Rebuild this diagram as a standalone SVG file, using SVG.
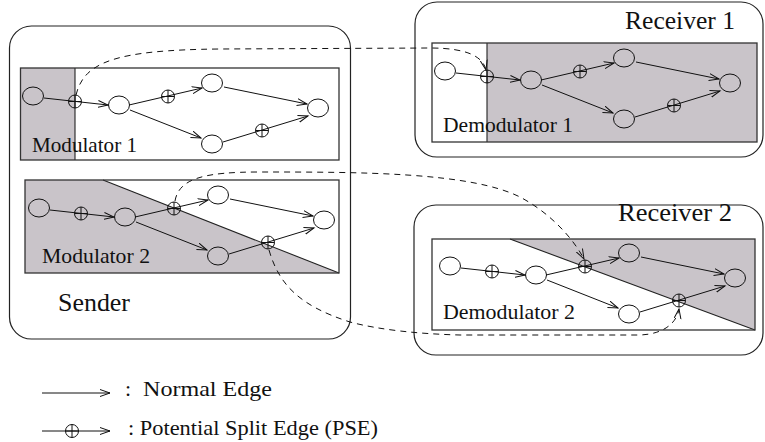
<svg xmlns="http://www.w3.org/2000/svg" width="765" height="442" viewBox="0 0 765 442">
  <style>
    .box { fill: none; stroke: #333; stroke-width: 1.3; }
    .frame { fill: none; stroke: #222; stroke-width: 1.2; }
    .shade { fill: #c9c4c9; stroke: none; }
    .split { fill: none; stroke: #222; stroke-width: 1.1; }
    .node { fill: none; stroke: #111; stroke-width: 1; }
    .edge { fill: none; stroke: #111; stroke-width: 1; marker-end: url(#arrow); }
    .link { fill: none; stroke: #111; stroke-width: 1; stroke-dasharray: 6 5; marker-end: url(#arrow); }
    .label { font-family: "Liberation Serif", "Times New Roman", serif; fill: #111; }
  </style>
  <defs>
    <marker id="arrow" markerUnits="userSpaceOnUse" markerWidth="12" markerHeight="9" refX="10" refY="4" orient="auto" viewBox="0 0 12 9">
      <path d="M0,0.5 L10,4 L0,7.5" fill="none" stroke="#111" stroke-width="1"/>
    </marker>
    <!-- potential split point: circle with a cross -->
    <g id="pse">
      <circle r="6.5" fill="none" stroke="#111" stroke-width="1"/>
      <path d="M-6.5,0 H6.5 M0,-6.5 V6.5" stroke="#111" stroke-width="1"/>
    </g>
  </defs>

  <rect width="765" height="442" fill="#fff"/>

  <!-- outer parties -->
  <g id="sender">
    <rect class="frame" x="9.5" y="26" width="341" height="313" rx="22"/>
    <text class="label" x="58" y="311" font-size="26" textLength="72" lengthAdjust="spacingAndGlyphs">Sender</text>
  </g>
  <g id="receiver1">
    <rect class="frame" x="415" y="2" width="348" height="155" rx="22"/>
    <text class="label" x="625" y="29" font-size="25" textLength="110" lengthAdjust="spacingAndGlyphs">Receiver 1</text>
  </g>
  <g id="receiver2">
    <rect class="frame" x="414" y="205" width="349" height="150" rx="22"/>
    <text class="label" x="618" y="221" font-size="25" textLength="114" lengthAdjust="spacingAndGlyphs">Receiver 2</text>
  </g>

  <!-- modulator / demodulator panels -->
  <g id="modulator1">
    <rect class="shade" x="20.5" y="68" width="54.5" height="92"/>
    <line class="split" x1="75" y1="68" x2="75" y2="160"/>
    <rect class="box" x="20.5" y="68" width="318.5" height="92"/>
    <text class="label" x="32" y="152" font-size="21" textLength="105" lengthAdjust="spacingAndGlyphs">Modulator 1</text>
  </g>
  <g id="modulator2">
    <polygon class="shade" points="25,180 103,180 339,273 25,273"/>
    <line class="split" x1="103" y1="180" x2="339" y2="273"/>
    <rect class="box" x="25" y="180" width="314" height="93"/>
    <text class="label" x="42" y="263" font-size="21" textLength="108" lengthAdjust="spacingAndGlyphs">Modulator 2</text>
  </g>
  <g id="demodulator1">
    <rect class="shade" x="487" y="43" width="270" height="99"/>
    <line class="split" x1="487" y1="43" x2="487" y2="142"/>
    <rect class="box" x="432" y="43" width="325" height="99"/>
    <text class="label" x="443" y="132" font-size="21" textLength="130" lengthAdjust="spacingAndGlyphs">Demodulator 1</text>
  </g>
  <g id="demodulator2">
    <polygon class="shade" points="510,239 755,239 755,330"/>
    <line class="split" x1="510" y1="239" x2="755" y2="330"/>
    <rect class="box" x="432" y="239" width="323" height="91"/>
    <text class="label" x="443" y="319" font-size="21" textLength="132" lengthAdjust="spacingAndGlyphs">Demodulator 2</text>
  </g>

  <!-- flow graph inside modulator 1 -->
  <g id="graph-m1">
    <g id="graph-m1-edges">
      <line class="edge" x1="44" y1="98" x2="108" y2="105"/>
      <line class="edge" x1="129" y1="105" x2="202" y2="88"/>
      <line class="edge" x1="130" y1="110" x2="201" y2="138"/>
      <line class="edge" x1="224" y1="87" x2="307" y2="104"/>
      <line class="edge" x1="223" y1="142" x2="308" y2="116"/>
      <use href="#pse" x="75" y="101.5"/>
      <use href="#pse" x="168" y="96.5"/>
      <use href="#pse" x="262" y="130.5"/>
    </g>
    <g id="m1-a"><ellipse class="node" cx="33" cy="96" rx="10.5" ry="9"/></g>
    <g id="m1-b"><ellipse class="node" cx="119" cy="105" rx="10.5" ry="9"/></g>
    <g id="m1-c"><ellipse class="node" cx="212" cy="83" rx="10.5" ry="9"/></g>
    <g id="m1-d"><ellipse class="node" cx="212" cy="144" rx="10.5" ry="9"/></g>
    <g id="m1-e"><ellipse class="node" cx="318" cy="108" rx="10.5" ry="9"/></g>
  </g>

  <!-- flow graph inside modulator 2 -->
  <g id="graph-m2" transform="translate(6,112)">
    <g id="graph-m2-edges">
      <line class="edge" x1="44" y1="98" x2="108" y2="105"/>
      <line class="edge" x1="129" y1="105" x2="202" y2="88"/>
      <line class="edge" x1="130" y1="110" x2="201" y2="138"/>
      <line class="edge" x1="224" y1="87" x2="307" y2="104"/>
      <line class="edge" x1="223" y1="142" x2="308" y2="116"/>
      <use href="#pse" x="75" y="101.5"/>
      <use href="#pse" x="168" y="96.5"/>
      <use href="#pse" x="262" y="130.5"/>
    </g>
    <g id="m2-a"><ellipse class="node" cx="33" cy="96" rx="10.5" ry="9"/></g>
    <g id="m2-b"><ellipse class="node" cx="119" cy="105" rx="10.5" ry="9"/></g>
    <g id="m2-c"><ellipse class="node" cx="212" cy="83" rx="10.5" ry="9"/></g>
    <g id="m2-d"><ellipse class="node" cx="212" cy="144" rx="10.5" ry="9"/></g>
    <g id="m2-e"><ellipse class="node" cx="318" cy="108" rx="10.5" ry="9"/></g>
  </g>

  <!-- flow graph inside demodulator 1 -->
  <g id="graph-d1" transform="translate(412,-25)">
    <g id="graph-d1-edges">
      <line class="edge" x1="44" y1="98" x2="108" y2="105"/>
      <line class="edge" x1="129" y1="105" x2="202" y2="88"/>
      <line class="edge" x1="130" y1="110" x2="201" y2="138"/>
      <line class="edge" x1="224" y1="87" x2="307" y2="104"/>
      <line class="edge" x1="223" y1="142" x2="308" y2="116"/>
      <use href="#pse" x="75" y="101.5"/>
      <use href="#pse" x="168" y="96.5"/>
      <use href="#pse" x="262" y="130.5"/>
    </g>
    <g id="d1-a"><ellipse class="node" cx="33" cy="96" rx="10.5" ry="9"/></g>
    <g id="d1-b"><ellipse class="node" cx="119" cy="105" rx="10.5" ry="9"/></g>
    <g id="d1-c"><ellipse class="node" cx="212" cy="83" rx="10.5" ry="9"/></g>
    <g id="d1-d"><ellipse class="node" cx="212" cy="144" rx="10.5" ry="9"/></g>
    <g id="d1-e"><ellipse class="node" cx="318" cy="108" rx="10.5" ry="9"/></g>
  </g>

  <!-- flow graph inside demodulator 2 -->
  <g id="graph-d2" transform="translate(417,170)">
    <g id="graph-d2-edges">
      <line class="edge" x1="44" y1="98" x2="108" y2="105"/>
      <line class="edge" x1="129" y1="105" x2="202" y2="88"/>
      <line class="edge" x1="130" y1="110" x2="201" y2="138"/>
      <line class="edge" x1="224" y1="87" x2="307" y2="104"/>
      <line class="edge" x1="223" y1="142" x2="308" y2="116"/>
      <use href="#pse" x="75" y="101.5"/>
      <use href="#pse" x="168" y="96.5"/>
      <use href="#pse" x="262" y="130.5"/>
    </g>
    <g id="d2-a"><ellipse class="node" cx="33" cy="96" rx="10.5" ry="9"/></g>
    <g id="d2-b"><ellipse class="node" cx="119" cy="105" rx="10.5" ry="9"/></g>
    <g id="d2-c"><ellipse class="node" cx="212" cy="83" rx="10.5" ry="9"/></g>
    <g id="d2-d"><ellipse class="node" cx="212" cy="144" rx="10.5" ry="9"/></g>
    <g id="d2-e"><ellipse class="node" cx="318" cy="108" rx="10.5" ry="9"/></g>
  </g>

  <!-- dashed links between split points -->
  <g id="connectors">
    <path class="link" d="M76,95 C 84,62 115,50 220,49 L 430,48 C 468,48 483,57 486,70"/>
    <path class="link" d="M175,201 C 179,178 205,172 260,172 C 360,172 470,172 520,197 C 552,214 574,240 584,259"/>
    <path class="link" d="M269,250 C 279,285 300,306 350,322 C 380,330 420,334 460,335 L 640,335 C 665,334 677,322 679,309"/>
  </g>

  <!-- legend -->
  <g id="legend">
    <line class="edge" x1="42" y1="393" x2="110" y2="393"/>
    <text class="label" x="125" y="396" font-size="22">:<tspan x="143" textLength="129" lengthAdjust="spacingAndGlyphs">Normal Edge</tspan></text>
    <line class="edge" x1="42" y1="431" x2="110" y2="431"/>
    <use href="#pse" x="72" y="431"/>
    <text class="label" x="128" y="435" font-size="22" textLength="250" lengthAdjust="spacingAndGlyphs">: Potential Split Edge (PSE)</text>
  </g>
</svg>
